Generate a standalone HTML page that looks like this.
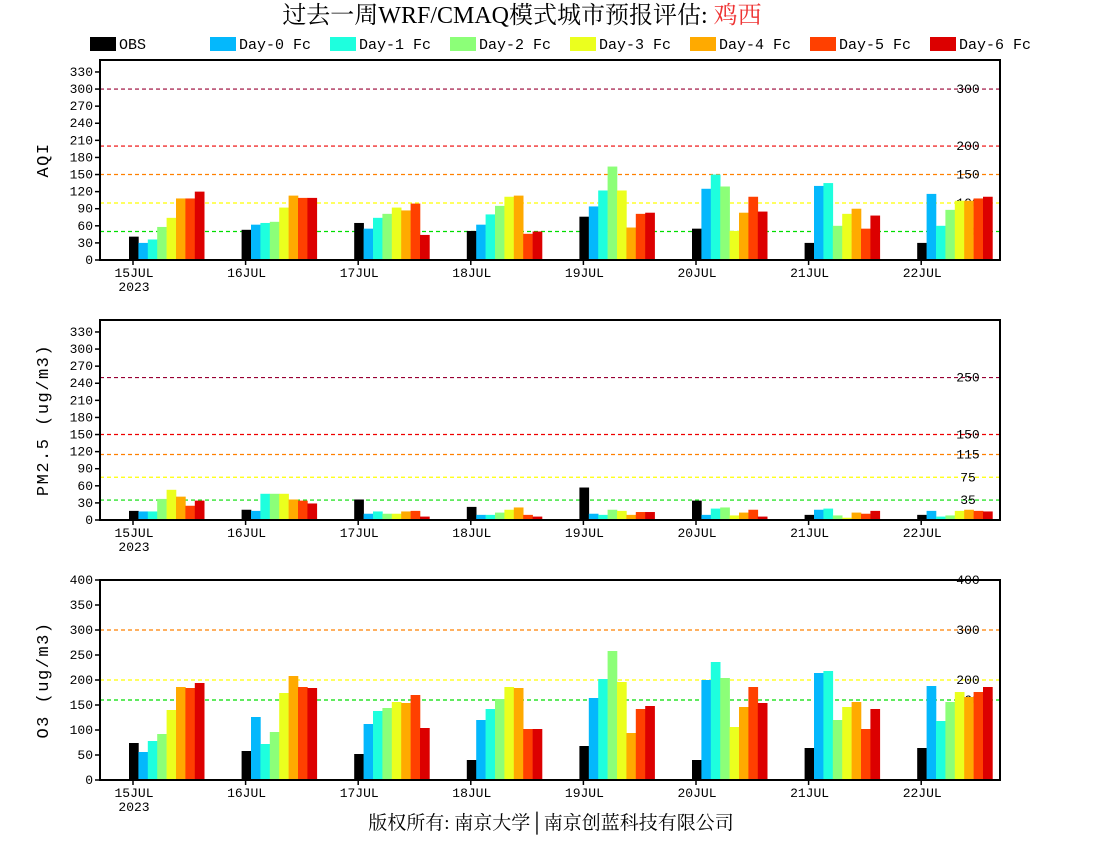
<!DOCTYPE html>
<html><head><meta charset="utf-8">
<style>
html,body{margin:0;padding:0;background:#fff;}
svg{display:block;}
text{font-family:"Liberation Mono","Noto Sans CJK SC",monospace;}
</style></head>
<body>
<svg id="chart" width="1100" height="850" viewBox="0 0 1100 850" xmlns="http://www.w3.org/2000/svg">
<text x="522" y="23" text-anchor="middle" font-size="24" style="font-family:'Liberation Serif','Noto Serif CJK SC',serif">过去一周WRF/CMAQ模式城市预报评估: <tspan fill="#ee3333">鸡西</tspan></text>
<text x="551" y="829" text-anchor="middle" font-size="19" style="font-family:'Liberation Serif','Noto Serif CJK SC',serif">版权所有: 南京大学│南京创蓝科技有限公司</text>
<g id="legend"></g>
<g id="panels"></g>
</svg>
<script>
const categories = ["15JUL","16JUL","17JUL","18JUL","19JUL","20JUL","21JUL","22JUL"];
const seriesNames = ["OBS","Day-0 Fc","Day-1 Fc","Day-2 Fc","Day-3 Fc","Day-4 Fc","Day-5 Fc","Day-6 Fc"];
const seriesColors = ["#000000","#04b8fc","#1effde","#8cff78","#ebff1e","#ffaa00","#ff4000","#dc0000"];
// AQI [day][series]
const aqiValues = [
 [41,30,36,58,74,108,108,120],
 [53,62,65,67,92,113,109,109],
 [65,55,74,81,92,87,99,44],
 [51,62,80,95,111,113,46,50],
 [76,94,122,164,122,57,81,83],
 [55,125,150,129,51,83,111,85],
 [30,130,135,60,81,90,55,78],
 [30,116,60,88,104,104,108,111]
];
const pm25Values = [
 [16,15,15,37,53,41,25,34],
 [18,16,46,46,46,36,34,29],
 [36,11,15,11,11,15,16,6],
 [23,9,9,13,18,22,9,6],
 [57,11,9,18,16,9,14,14],
 [34,9,20,22,8,13,18,6],
 [9,18,20,8,4,13,11,16],
 [9,16,6,8,16,18,16,15]
];
const o3Values = [
 [74,56,78,92,140,186,184,194],
 [58,126,72,96,174,208,186,184],
 [52,112,138,144,156,154,170,104],
 [40,120,142,162,186,184,102,102],
 [68,164,202,258,196,94,142,148],
 [40,200,236,204,106,146,186,154],
 [64,214,218,120,146,156,102,142],
 [64,188,118,156,176,166,176,186]
];
const aqiTicks = [0,30,60,90,120,150,180,210,240,270,300,330];
const pmTicks = [0,30,60,90,120,150,180,210,240,270,300,330];
const o3Ticks = [0,50,100,150,200,250,300,350,400];
const aqiLevels = [300,200,150,100,50];
const pmLevels = [250,150,115,75,35];
const o3Levels = [400,300,200,160];
const levelColors5 = ["#990033","#ee0000","#ff8000","#ffff00","#00dd00"];
const o3LevelColors = ["#ee0000","#ff8000","#ffff00","#00dd00"];

const NS="http://www.w3.org/2000/svg";
const svg=document.getElementById('chart');
function mk(tag,attrs,parent){const e=document.createElementNS(NS,tag);for(const k in attrs)e.setAttribute(k,attrs[k]);(parent||svg).appendChild(e);return e;}

const lg=document.getElementById('legend');
seriesNames.forEach((n,i)=>{
  const x=90+i*120;
  const r=mk('rect',{x:x,y:37,width:26,height:14,fill:seriesColors[i]},lg);
  
  
  const t=mk('text',{x:x+29,y:49,'font-size':15},lg);
  t.textContent=n;
  
  
});

const X0=100,X1=1000;
function xDay(i){return 133+i*112.6;}
const BW=9.4;

function panel(opts){
  const g=mk('g',{},document.getElementById('panels'));
  
  
  const top=opts.top,bot=opts.top+200;
  const y=v=>bot-(v/opts.max)*200;
  opts.levels.forEach((lv,i)=>{
    const ly=y(lv);
    const l=mk('line',{x1:X0,x2:X1,y1:ly,y2:ly,stroke:opts.levelColors[i],'stroke-width':1.2,'stroke-dasharray':'4,3'},g);
    
    
    const t=mk('text',{x:968,y:ly+4,'font-size':13,'text-anchor':'middle'},g);
    t.textContent=String(lv);
    
    
  });
  opts.data.forEach((day,i)=>{
    day.forEach((v,j)=>{
      const r=mk('rect',{x:xDay(i)-4+j*BW,y:y(v),width:BW+0.3,height:bot-y(v),fill:seriesColors[j]},g);
      
      
    });
  });
  const f=mk('rect',{x:X0,y:top,width:X1-X0,height:200,fill:'none',stroke:'#000','stroke-width':2},g);
  
  
  opts.ticks.forEach(tv=>{
    const ty=y(tv);
    mk('line',{x1:X0-5,x2:X0,y1:ty,y2:ty,stroke:'#000','stroke-width':1.5},g);
    const t=mk('text',{x:X0-7,y:ty+4,'font-size':13,'text-anchor':'end'},g);
    t.textContent=String(tv);
    
    
  });
  categories.forEach((c,i)=>{
    const tx=xDay(i);
    mk('line',{x1:tx,x2:tx,y1:bot,y2:bot+5,stroke:'#000','stroke-width':1.5},g);
    const t=mk('text',{x:tx+1,y:bot+17,'font-size':13,'text-anchor':'middle'},g);
    t.textContent=c;
    
    
  });
  const yr=mk('text',{x:xDay(0)+1,y:bot+31,'font-size':13,'text-anchor':'middle'},g);
  yr.textContent='2023';
  
  
  const cy=top+100;
  const yt=mk('text',{x:0,y:0,'font-size':17,'letter-spacing':1.5,'text-anchor':'middle',transform:`translate(48,${cy}) rotate(-90)`},g);
  yt.textContent=opts.title;
  
  
}
panel({name:'aqi-panel',top:60,max:351,data:aqiValues,ticks:aqiTicks,levels:aqiLevels,levelColors:levelColors5,title:'AQI'});
panel({name:'pm25-panel',top:320,max:351,data:pm25Values,ticks:pmTicks,levels:pmLevels,levelColors:levelColors5,title:'PM2.5 (ug/m3)'});
panel({name:'o3-panel',top:580,max:400,data:o3Values,ticks:o3Ticks,levels:o3Levels,levelColors:o3LevelColors,title:'O3 (ug/m3)'});
</script>
</body></html>
